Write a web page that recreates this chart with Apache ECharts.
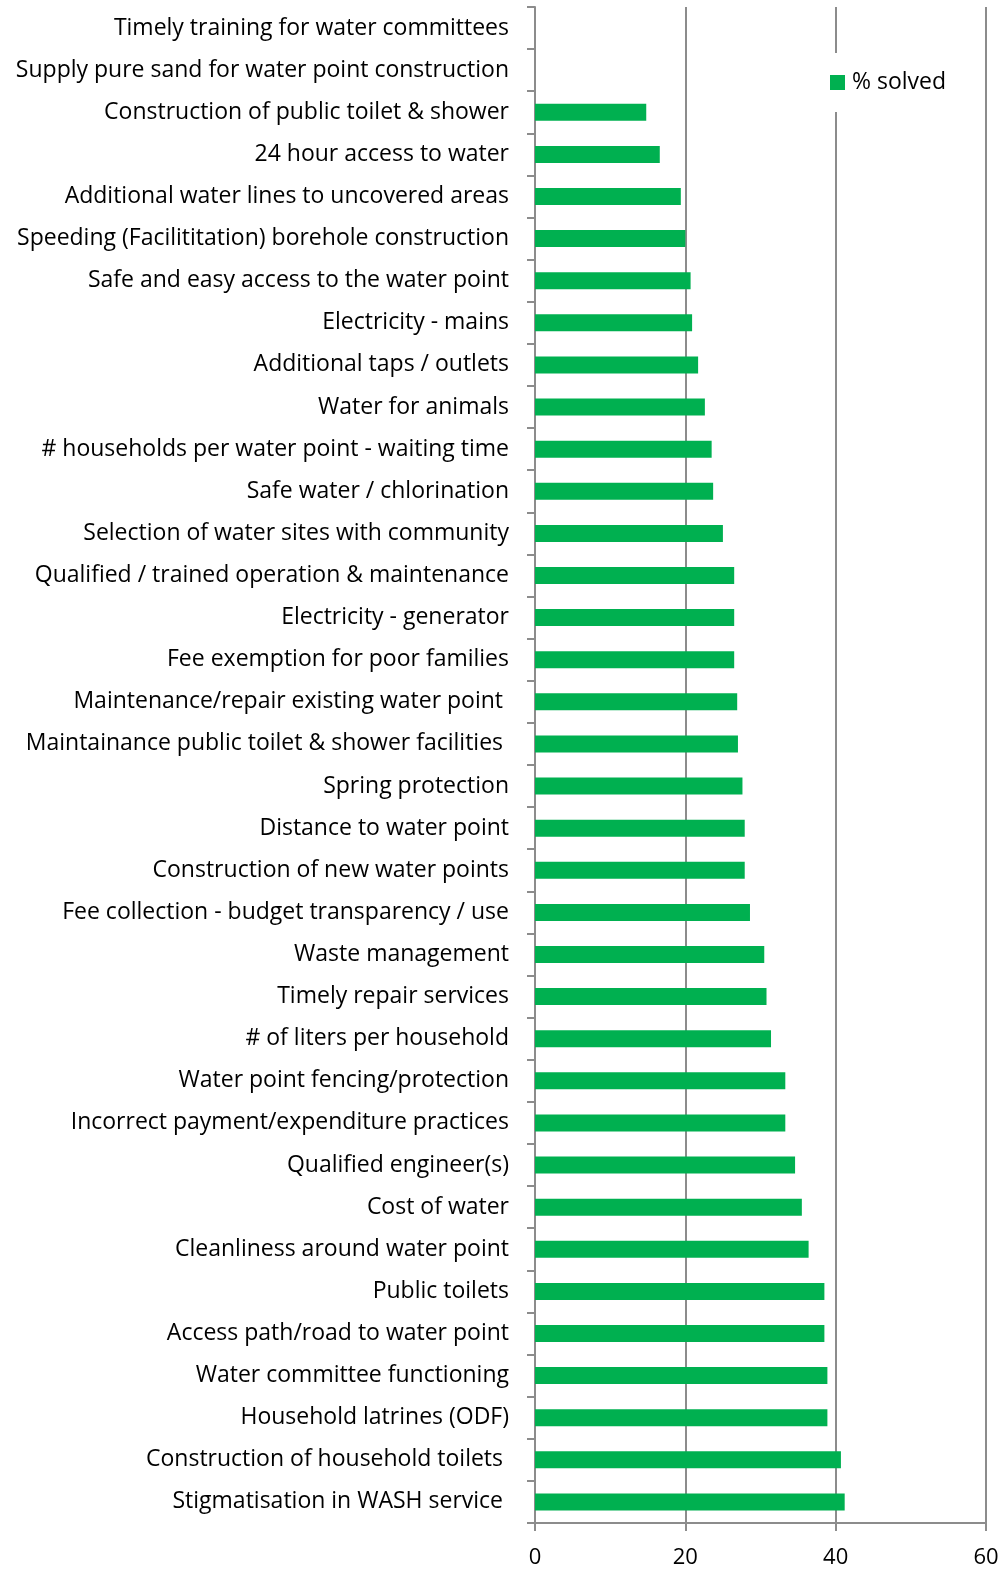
<!DOCTYPE html>
<html>
<head>
<meta charset="utf-8">
<script src="https://cdn.jsdelivr.net/npm/echarts@6/dist/echarts.min.js"></script>
<style>
  html, body { margin: 0; padding: 0; background: #fff; }
  #chart { width: 1005px; height: 1571px; }
</style>
</head>
<body>
<div id="chart"></div>
<script>
// Issues listed top to bottom
const categories = [
  'Timely training for water committees',
  'Supply pure sand for water point construction',
  'Construction of public toilet & shower',
  '24 hour access to water',
  'Additional water lines to uncovered areas',
  'Speeding (Facilititation) borehole construction',
  'Safe and easy access to the water point',
  'Electricity - mains',
  'Additional taps / outlets',
  'Water for animals',
  '# households per water point - waiting time',
  'Safe water / chlorination',
  'Selection of water sites with community',
  'Qualified / trained operation & maintenance',
  'Electricity - generator',
  'Fee exemption for poor families',
  'Maintenance/repair existing water point ',
  'Maintainance public toilet & shower facilities ',
  'Spring protection',
  'Distance to water point',
  'Construction of new water points',
  'Fee collection - budget transparency / use',
  'Waste management',
  'Timely repair services',
  '# of liters per household',
  'Water point fencing/protection',
  'Incorrect payment/expenditure practices',
  'Qualified engineer(s)',
  'Cost of water',
  'Cleanliness around water point',
  'Public toilets',
  'Access path/road to water point',
  'Water committee functioning',
  'Household latrines (ODF)',
  'Construction of household toilets ',
  'Stigmatisation in WASH service '
];

// Percentage of cases solved, same order as categories
const solved = [
  0, 0, 14.8, 16.6, 19.4, 20.0, 20.7, 20.9, 21.7, 22.6,
  23.5, 23.7, 25.0, 26.5, 26.5, 26.5, 26.9, 27.0, 27.6, 27.9,
  27.9, 28.6, 30.5, 30.8, 31.4, 33.3, 33.3, 34.6, 35.5, 36.4,
  38.5, 38.5, 38.9, 38.9, 40.7, 41.2
];

const xTicks = { min: 0, max: 60, interval: 20 };
const seriesName = '% solved';

const FONT = '"Open Sans", "Noto Sans", sans-serif';
const AXIS_GREY = '#8c8c8c';

const chart = echarts.init(document.getElementById('chart'), null, { renderer: 'canvas' });

chart.setOption({
  animation: false,
  backgroundColor: '#ffffff',
  textStyle: { fontFamily: FONT },
  grid: { left: 535, right: 19, top: 7, bottom: 48, containLabel: false },
  legend: {
    data: [seriesName],
    left: 826,
    top: 53,
    padding: [18, 6, 18, 4],
    backgroundColor: '#ffffff',
    itemWidth: 15,
    itemHeight: 15,
    itemGap: 7,
    icon: 'rect',
    textStyle: { fontFamily: FONT, fontSize: 23, color: '#000', padding: [0, 0, 0, 2] }
  },
  xAxis: {
    type: 'value',
    min: xTicks.min,
    max: xTicks.max,
    interval: xTicks.interval,
    axisLine: { show: true, lineStyle: { color: AXIS_GREY, width: 2 } },
    axisTick: { show: true, length: 8, lineStyle: { color: AXIS_GREY, width: 2 } },
    axisLabel: { fontFamily: FONT, fontSize: 22, color: '#000', margin: 24 },
    splitLine: { show: true, lineStyle: { color: AXIS_GREY, width: 2 } }
  },
  yAxis: {
    type: 'category',
    data: categories,
    inverse: true,
    axisLine: { show: true, lineStyle: { color: AXIS_GREY, width: 2 } },
    axisTick: { show: true, length: 8, lineStyle: { color: AXIS_GREY, width: 2 } },
    axisLabel: { fontFamily: FONT, fontSize: 23, color: '#000', margin: 26 },
    splitLine: { show: false }
  },
  series: [{
    name: seriesName,
    type: 'bar',
    data: solved,
    barWidth: 17,
    itemStyle: { color: '#00b050' },
    z: 1
  }]
});
</script>
</body>
</html>
